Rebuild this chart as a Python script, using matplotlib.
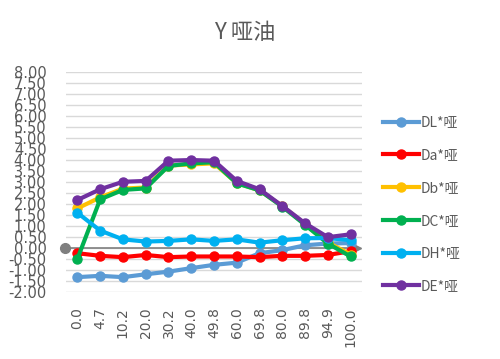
import numpy as np
import matplotlib.pyplot as plt

plt.rcParams['font.family'] = ['Noto Sans CJK SC', 'DejaVu Sans']

cats = ['0.0', '4.7', '10.2', '20.0', '30.2', '40.0', '49.8', '60.0',
        '69.8', '80.0', '89.8', '94.9', '100.0']
DL = [-1.33, -1.27, -1.33, -1.20, -1.08, -0.92, -0.77, -0.67, -0.24, -0.10, 0.12, 0.20, 0.22]
Da = [-0.24, -0.36, -0.42, -0.32, -0.42, -0.39, -0.39, -0.39, -0.42, -0.36, -0.36, -0.32, -0.15]
Db = [1.80, 2.30, 2.70, 2.75, 3.75, 3.80, 3.85, 2.95, 2.62, 1.90, 1.08, 0.25, -0.30]
DC = [-0.50, 2.21, 2.64, 2.71, 3.73, 3.85, 3.90, 2.94, 2.62, 1.88, 1.05, 0.20, -0.39]
DH = [1.60, 0.79, 0.39, 0.29, 0.32, 0.39, 0.32, 0.39, 0.24, 0.35, 0.44, 0.45, 0.35]
DE = [2.18, 2.67, 3.01, 3.05, 3.97, 4.00, 3.97, 3.05, 2.67, 1.91, 1.12, 0.49, 0.62]

names = ['DL*哑', 'Da*哑', 'Db*哑', 'DC*哑', 'DH*哑', 'DE*哑']
series = [DL, Da, Db, DC, DH, DE]
colors = ['#5B9BD5', '#FF0000', '#FFC000', '#00B050', '#00B0F0', '#7030A0']

fig = plt.figure(figsize=(5, 3.59), dpi=100)
ax = fig.add_axes([0.132, 0.187, 0.592, 0.612])

x = np.arange(len(cats))
for y, c, n in zip(series, colors, names):
    ax.plot(x, y, color=c, lw=3, marker='o', ms=6.5, label=n, zorder=3)

# zero line with start dot and arrow head
ax.plot([-0.55, 12.25], [0, 0], color='#7F7F7F', lw=1.2, zorder=2, clip_on=False)
ax.plot([-0.55], [0], 'o', color='#7F7F7F', ms=7, zorder=2, clip_on=False)
ax.plot([12.3], [0], '>', color='#7F7F7F', ms=6, zorder=2, clip_on=False)

ax.set_xlim(-0.5, 12.5)
ax.set_ylim(-2, 8)
ax.set_yticks(np.arange(-2, 8.01, 0.5))
ax.set_yticklabels(['%.2f' % v for v in np.arange(-2, 8.01, 0.5)],
                   fontsize=10.5, color='#595959', family='DejaVu Sans')
ax.set_xticks(x)
ax.set_xticklabels(cats, rotation=90, fontsize=10, color='#595959', family='DejaVu Sans')
ax.tick_params(length=0)
ax.tick_params(axis='x', pad=11)
ax.tick_params(axis='y', pad=14)
ax.grid(axis='y', color='#D9D9D9', lw=1)
ax.set_axisbelow(True)
for s in ax.spines.values():
    s.set_visible(False)

fig.text(0.49, 0.91, 'Y 哑油', ha='center', va='center', fontsize=16, color='#595959')

ax.legend(loc='upper left', bbox_to_anchor=(1.03, 0.86), frameon=False,
          labelspacing=1.35, handlelength=2.6, handletextpad=0.1,
          fontsize=10, labelcolor='#595959')

fig.savefig('out.png', dpi=100)
